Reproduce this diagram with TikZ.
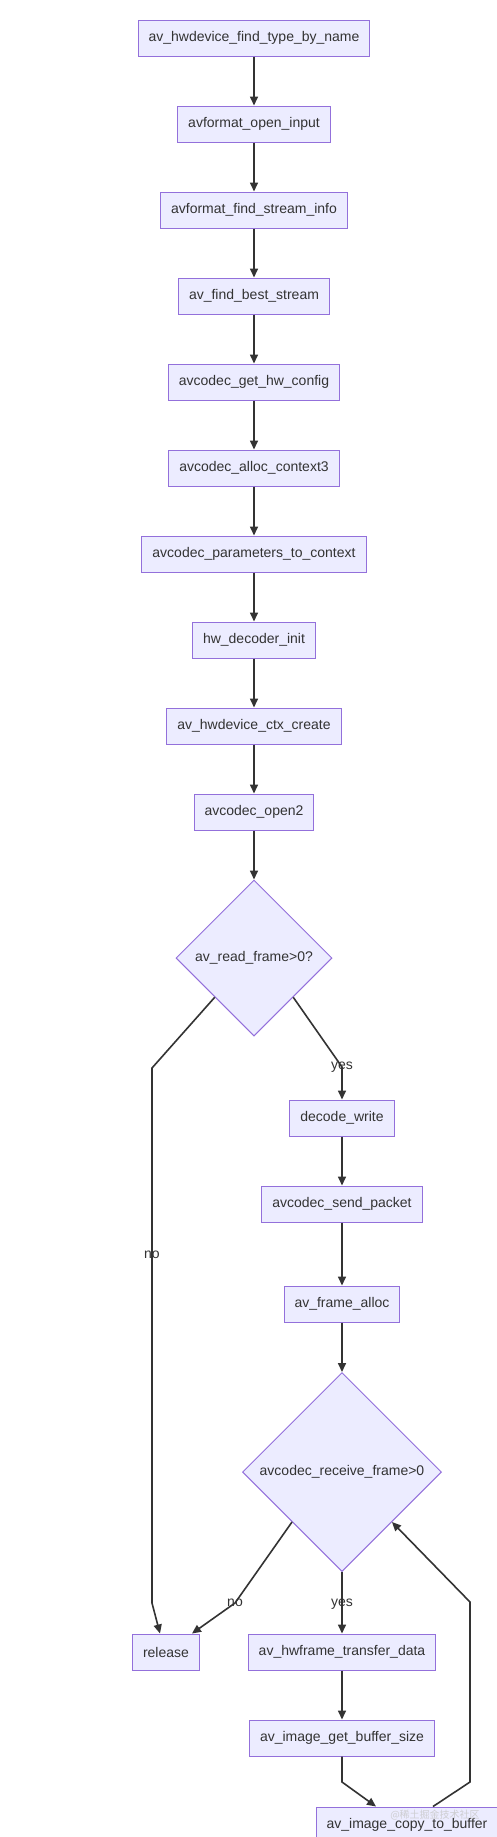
\documentclass[tikz,border=0pt]{standalone}
\usepackage{fontspec}
\setmainfont{Liberation Sans}
\newfontfamily\cjkfont{Noto Sans CJK SC}
\usetikzlibrary{arrows.meta, shapes.geometric, calc}
\definecolor{mmFill}  {RGB}{236,236,255}
\definecolor{mmBorder}{RGB}{147,112,219}
\definecolor{mmLine}  {RGB}{51,51,51}

\begin{document}
\begin{tikzpicture}[x=1pt, y=-1pt,
        font=\fontsize{14}{16}\selectfont, text=mmLine,
        box/.style={draw=mmBorder, fill=mmFill, line width=1pt, minimum height=36pt, inner xsep=10.5pt, inner ysep=0pt},
        decision/.style={diamond, aspect=1, draw=mmBorder, fill=mmFill, line width=1pt, inner sep=0pt},
        flow/.style={draw=mmLine, line width=1.6pt, -{Triangle[length=9pt, width=8pt]}},
        lbl/.style={inner sep=0pt, text=mmLine}]
        \clip (0,0) rectangle (497,1837);
        \useasboundingbox (0,0) rectangle (497,1837);
        \fill[white] (0,0) rectangle (497,1837);

        % main chain
        \node[box] (findtype) at (254,38) {av\_hwdevice\_find\_type\_by\_name};
        \node[box] (openin) at (254,124) {avformat\_open\_input};
        \node[box] (findinfo) at (254,210) {avformat\_find\_stream\_info};
        \node[box] (beststream) at (254,296) {av\_find\_best\_stream};
        \node[box] (hwconfig) at (254,382) {avcodec\_get\_hw\_config};
        \node[box] (allocctx) at (254,468) {avcodec\_alloc\_context3};
        \node[box] (paramctx) at (254,554) {avcodec\_parameters\_to\_context};
        \node[box] (hwinit) at (254,640) {hw\_decoder\_init};
        \node[box] (ctxcreate) at (254,726) {av\_hwdevice\_ctx\_create};
        \node[box] (open2) at (254,812) {avcodec\_open2};
        \node[decision, minimum size=156pt] (readframe) at (254,958) {av\_read\_frame>0?};

        % decode loop
        \node[box] (decwrite) at (342,1118) {decode\_write};
        \node[box] (sendpkt) at (342,1204) {avcodec\_send\_packet};
        \node[box] (framealloc) at (342,1304) {av\_frame\_alloc};
        \node[decision, minimum size=199pt] (recvframe) at (342,1472) {avcodec\_receive\_frame>0};
        \node[box] (release) at (166,1652) {release};
        \node[box] (transfer) at (342,1652) {av\_hwframe\_transfer\_data};
        \node[box] (bufsize) at (342,1738) {av\_image\_get\_buffer\_size};
        \node[box] (copybuf) at (407,1825) {av\_image\_copy\_to\_buffer};

        \coordinate (noA) at (152,1068);
        \coordinate (noB) at (152,1603);
        \coordinate (yesA) at (342,1067);
        \coordinate (noC) at (235,1603);
        \coordinate (cpA) at (342,1782);
        \coordinate (backA) at (470,1782);
        \coordinate (backB) at (470,1602);

        \draw[flow] (findtype) -- (openin);
        \draw[flow] (openin) -- (findinfo);
        \draw[flow] (findinfo) -- (beststream);
        \draw[flow] (beststream) -- (hwconfig);
        \draw[flow] (hwconfig) -- (allocctx);
        \draw[flow] (allocctx) -- (paramctx);
        \draw[flow] (paramctx) -- (hwinit);
        \draw[flow] (hwinit) -- (ctxcreate);
        \draw[flow] (ctxcreate) -- (open2);
        \draw[flow] (open2) -- (readframe);

        \draw[flow] (readframe.south west) -- (noA) -- node[lbl, pos=0.35] {no} (noB) -- ([xshift=-6pt]release.north);
        \draw[flow] (readframe.south east) -- (yesA) node[lbl] {yes} -- (decwrite.north);
        \draw[flow] (decwrite) -- (sendpkt);
        \draw[flow] (sendpkt) -- (framealloc);
        \draw[flow] (framealloc) -- (recvframe);

        \draw[flow] (recvframe.south west) -- (noC) node[lbl] {no} -- ([xshift=26pt]release.north);
        \draw[flow] (recvframe.south) -- node[lbl, pos=0.52] {yes} (transfer.north);
        \draw[flow] (transfer) -- (bufsize);
        \draw[flow] (bufsize.south) -- (cpA) -- ([xshift=-31pt]copybuf.north);
        \draw[flow] ([xshift=26pt]copybuf.north) -- (backA) -- (backB) -- (recvframe.south east);

        \node[text=gray!45, font=\cjkfont\fontsize{10}{12}\selectfont, opacity=0.8] (mark) at (435,1815) {@稀土掘金技术社区};
    \end{tikzpicture}
\end{document}
